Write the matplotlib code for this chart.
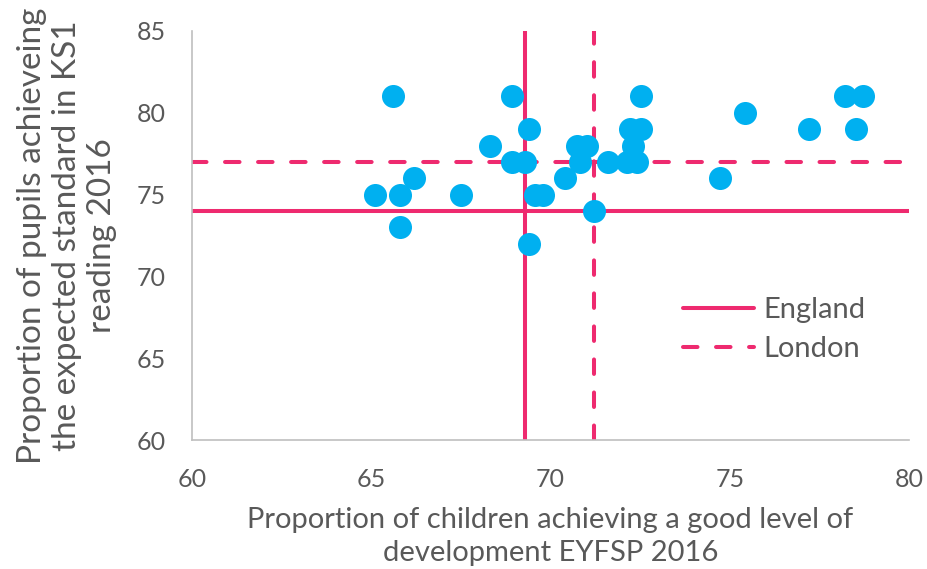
import matplotlib
matplotlib.use("Agg")
import matplotlib.pyplot as plt

plt.rcParams['font.family'] = ['Lato', 'DejaVu Sans']

eyfsp = [65.61, 68.92, 72.52, 69.41, 72.22, 72.52, 68.31, 70.73, 71.01, 72.31,
         68.92, 69.29, 70.82, 71.61, 72.13, 72.40, 66.20, 70.40, 65.10, 65.80,
         67.50, 69.57, 69.80, 71.21, 65.80, 69.41, 75.43, 77.22, 78.21, 78.73,
         78.52, 74.73]
ks1 = [81, 81, 81, 79, 79, 79, 78, 78, 78, 78,
       77, 77, 77, 77, 77, 77, 76, 76, 75, 75,
       75, 75, 75, 74, 73, 72, 80, 79, 81, 81,
       79, 76]

england_x, england_y = 69.3, 74
london_x, london_y = 71.2, 77

xticks = [60, 65, 70, 75, 80]
yticks = [60, 65, 70, 75, 80, 85]

text_color = '#595959'
pink = '#EE2A6F'
blue = '#00B0F0'

fig = plt.figure(figsize=(9.28, 5.69), dpi=100)
ax = fig.add_axes([192/928, 1-440/569, (909-192)/928, (440-31)/569])

ax.scatter(eyfsp, ks1, s=275, color=blue, zorder=3, linewidths=0)

lw = 2.9
ax.axhline(england_y, color=pink, lw=lw, solid_capstyle='round', zorder=2, label='England')
ax.axvline(england_x, color=pink, lw=lw, solid_capstyle='round', zorder=2)
ax.axhline(london_y, color=pink, lw=lw, dashes=(3.6, 4.6), dash_capstyle='round', zorder=2, label='London')
ax.axvline(london_x, color=pink, lw=lw, dashes=(3.6, 4.6), dash_capstyle='round', zorder=2)

ax.set_xlim(60, 80)
ax.set_ylim(60, 85)
ax.set_xticks(xticks)
ax.set_yticks(yticks)
ax.tick_params(axis='both', length=0, labelsize=18, colors=text_color)
ax.tick_params(axis='y', pad=19)
ax.tick_params(axis='x', pad=20)
for s in ['top', 'right']:
    ax.spines[s].set_visible(False)
for s in ['left', 'bottom']:
    ax.spines[s].set_color('#BFBFBF')
    ax.spines[s].set_linewidth(1.2)

ax.set_xlabel('Proportion of children achieving a good level of\ndevelopment EYFSP 2016',
              fontsize=21, color=text_color, labelpad=12, linespacing=1.3)
ax.set_ylabel('Proportion of pupils achieveing\nthe expected standard in KS1\nreading 2016',
              fontsize=24, color=text_color, labelpad=14, linespacing=1.2)

leg = ax.legend(loc='upper left', bbox_to_anchor=((683-192)/717, 1-(297-31)/409),
                frameon=False, fontsize=21, handlelength=2.45, labelspacing=0.45,
                handletextpad=0.3, borderaxespad=0, borderpad=0)
for t in leg.get_texts():
    t.set_color(text_color)

fig.savefig('out.png', dpi=100)
